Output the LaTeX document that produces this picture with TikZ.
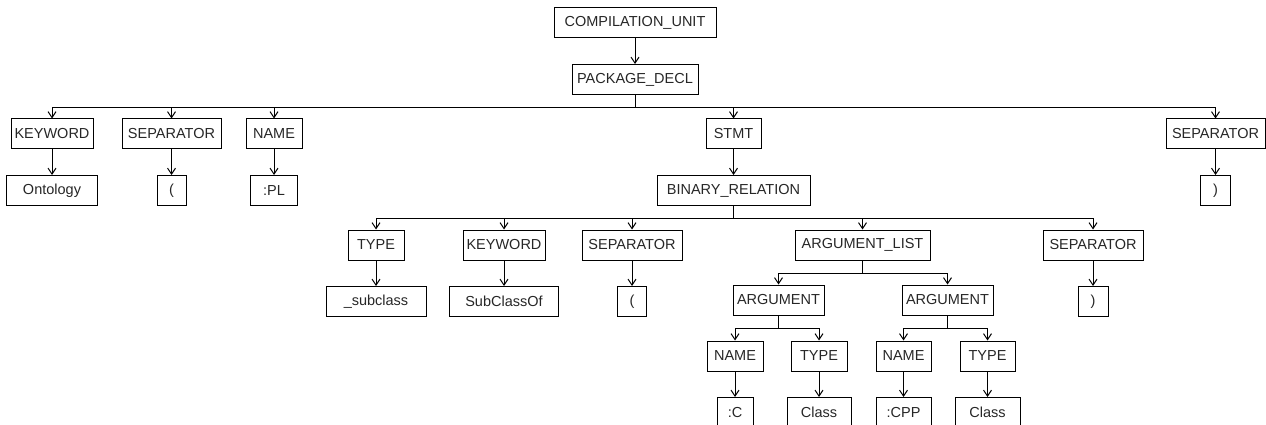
\documentclass[tikz,border=0pt]{standalone}
\usepackage{fontspec}
\setmainfont{Liberation Sans}
\usepackage{tikz}
\usetikzlibrary{arrows.meta, positioning}

\begin{document}
\begin{tikzpicture}[
    x=1pt, y=1pt,
    tok/.style={rectangle, draw=black, line width=1pt, minimum height=30pt, inner xsep=0pt, align=center, text=black!85, font=\fontsize{14.5}{16}\selectfont},
    arrow/.style={-{Straight Barb[length=6pt, width=8pt]}, line width=1pt},
    drop/.style={below=25.5pt of #1}
]
\useasboundingbox (0,0) rectangle (1266,-425);

% ==========================================
% RAIZ
% ==========================================
\node[tok, minimum width=162pt] (cu) at (635,-23) {COMPILATION\_UNIT};
\node[tok, minimum width=126pt, drop=cu] (pkg) {PACKAGE\_DECL};

% ==========================================
% NIVEL DE PACKAGE_DECL
% ==========================================
\node[tok, minimum width=82pt]  (kw1)   at (52,-134)     {KEYWORD};
\node[tok, minimum width=99pt]  (sep1)  at (171.5,-134)  {SEPARATOR};
\node[tok, minimum width=56pt]  (nm0)   at (274,-134)    {NAME};
\node[tok, minimum width=55pt]  (stmt)  at (733.5,-134)  {STMT};
\node[tok, minimum width=99pt]  (sep3)  at (1215.5,-134) {SEPARATOR};

\node[tok, minimum width=91pt,  drop=kw1]  (ont)    {Ontology};
\node[tok, minimum width=29pt,  drop=sep1] (lp1)    {(};
\node[tok, minimum width=47pt,  drop=nm0]  (pl)     {:PL};
\node[tok, minimum width=153pt, drop=stmt] (binrel) {BINARY\_RELATION};
\node[tok, minimum width=30pt,  drop=sep3] (rp1)    {)};

% ==========================================
% NIVEL DE BINARY_RELATION
% ==========================================
\node[tok, minimum width=56pt]  (ty0)     at (376,-245)    {TYPE};
\node[tok, minimum width=82pt]  (kw2)     at (504,-245)    {KEYWORD};
\node[tok, minimum width=100pt] (sep2)    at (632,-245)    {SEPARATOR};
\node[tok, minimum width=135pt] (arglist) at (862.5,-245)  {ARGUMENT\_LIST};
\node[tok, minimum width=100pt] (sep4)    at (1093,-245)   {SEPARATOR};

\node[tok, minimum width=100pt, drop=ty0]  (subcl) {\_subclass};
\node[tok, minimum width=109pt, drop=kw2]  (subof) {SubClassOf};
\node[tok, minimum width=29pt,  drop=sep2] (lp2)   {(};
\node[tok, minimum width=30pt,  drop=sep4] (rp2)   {)};

% ==========================================
% ARGUMENTOS
% ==========================================
\node[tok, minimum width=91pt] (arg1) at (778.5,-300) {ARGUMENT};
\node[tok, minimum width=91pt] (arg2) at (947.5,-300) {ARGUMENT};

\node[tok, minimum width=56pt] (nm1) at (735,-356)   {NAME};
\node[tok, minimum width=56pt] (ty1) at (819,-356)   {TYPE};
\node[tok, minimum width=55pt] (nm2) at (903.5,-356) {NAME};
\node[tok, minimum width=55pt] (ty2) at (987.5,-356) {TYPE};

\node[tok, minimum width=36pt, drop=nm1] (cc)   {:C};
\node[tok, minimum width=64pt, drop=ty1] (cls1) {Class};
\node[tok, minimum width=55pt, drop=nm2] (cpp)  {:CPP};
\node[tok, minimum width=65pt, drop=ty2] (cls2) {Class};

% hijos unicos
\foreach \i/\j in {cu/pkg,kw1/ont,sep1/lp1,nm0/pl,stmt/binrel,sep3/rp1,ty0/subcl,kw2/subof,sep2/lp2,sep4/rp2,nm1/cc,ty1/cls1,nm2/cpp,ty2/cls2} {
    \draw[arrow] (\i) -- (\j);
}

% hijos multiples
\foreach \i/\j in {pkg/kw1,pkg/sep1,pkg/nm0,pkg/stmt,pkg/sep3,binrel/ty0,binrel/kw2,binrel/sep2,binrel/arglist,binrel/sep4,arglist/arg1,arglist/arg2,arg1/nm1,arg1/ty1,arg2/nm2,arg2/ty2} {
    \draw[arrow] (\i.south) -- ++(0,-12.75) -| (\j.north);
}

\end{tikzpicture}
\end{document}
